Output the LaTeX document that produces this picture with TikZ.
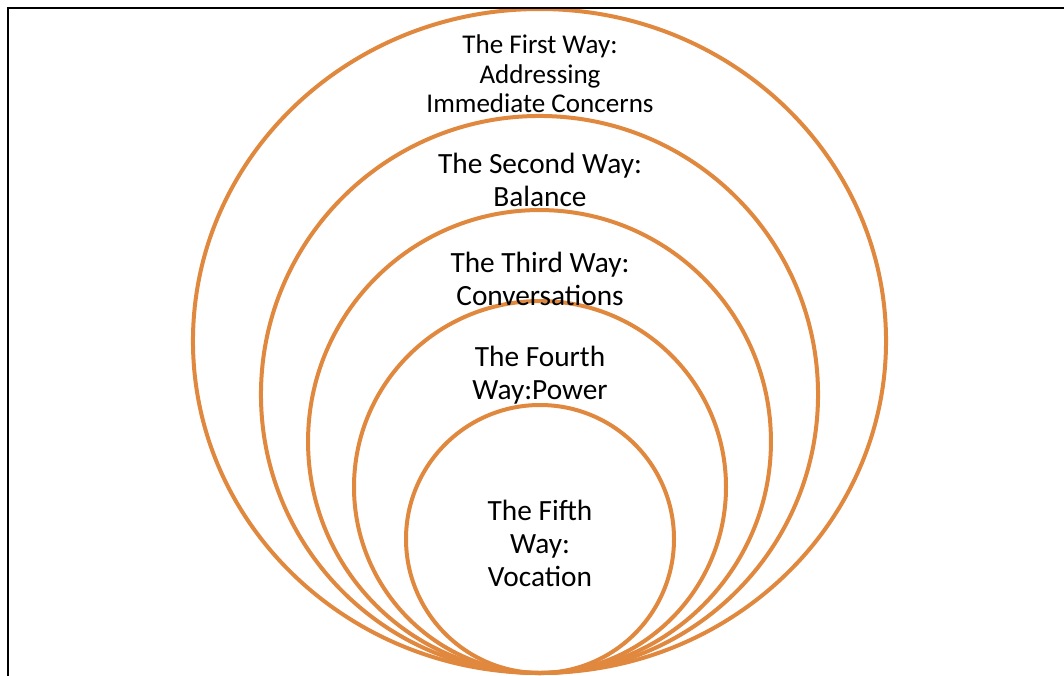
\documentclass[tikz,border=0pt]{standalone}
\usepackage{fontspec}
\setmainfont{Carlito}
\definecolor{ringorange}{RGB}{224,136,62}
\begin{document}
\begin{tikzpicture}[x=0.75pt,y=-0.75pt,
  ring/.style={draw=ringorange,line width=3pt},
  frameline/.style={draw=black,line width=1.5pt},
  waytext/.style={align=center,text=black,inner sep=0pt,font=\fontsize{22}{24.75}\selectfont},
  firsttext/.style={align=center,text=black,inner sep=0pt,font=\fontsize{20.3}{22.2}\selectfont}]
\useasboundingbox (0,0) rectangle (1064,675);
\begin{scope}
\clip (0,0) rectangle (1064,675);
\draw[ring] (539.5,341) ellipse [x radius=259.9pt, y radius=249pt];
\draw[ring] (539.5,394.5) circle [radius=208.9pt];
\draw[ring] (539.5,441.5) circle [radius=173.6pt];
\draw[ring] (540,487) circle [radius=139.5pt];
\draw[ring] (540,539) circle [radius=100.5pt];
\draw[frameline] (8,676) -- (8,7.5) -- (1065,7.5);
\end{scope}
\node[firsttext] (w1) at (540,74) {The First Way:\\Addressing\\Immediate Concerns};
\node[waytext] (w2) at (540,180) {The Second Way:\\Balance};
\node[waytext] (w3) at (540,279) {The Third Way:\\Conversations};
\node[waytext] (w4) at (540,375) {The Fourth\\Way:Power};
\node[waytext] (w5) at (540,543) {The Fifth\\Way:\\Vocation};
\end{tikzpicture}
\end{document}
